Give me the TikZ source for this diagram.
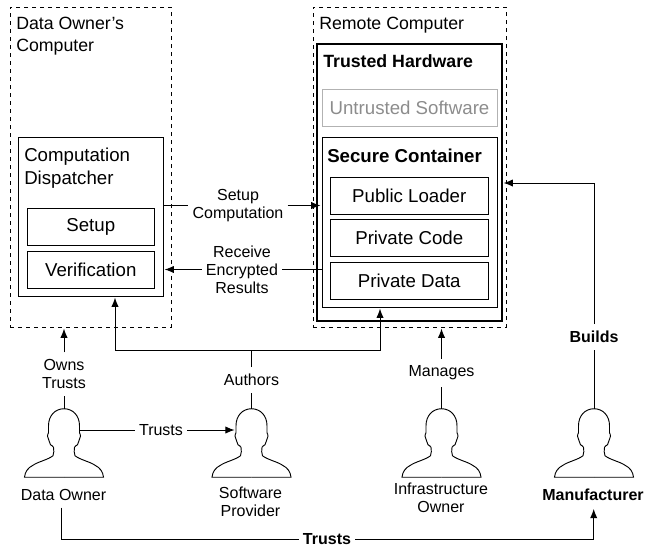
\documentclass[tikz,border=0pt]{standalone}
\usepackage{fontspec}
\setmainfont{Liberation Sans}
\usetikzlibrary{arrows.meta}
\tikzset{
  boxsize/.style 2 args={minimum width=#1*0.75pt, minimum height=#2*0.75pt, inner sep=0pt},
  box/.style={draw, line width=0.75pt, font=\fontsize{14}{17}\selectfont},
  dashbox/.style={draw, dashed, line width=0.75pt},
  title/.style={anchor=west, align=left, inner sep=0pt, font=\fontsize{13.3}{16}\selectfont},
  lbl/.style={align=center, inner xsep=3pt, inner ysep=5pt, font=\fontsize{12}{13.5}\selectfont},
  link/.style={draw, line width=0.75pt},
  arrow/.style={link, ->, shorten >=0.8pt},
  person/.pic={
    \foreach \side in {1,-1} {
      \draw[line width=0.7pt, xscale=\side] (0,0) .. controls (9,0) and (15.5,7) .. (15.5,17) -- (15.5,24)
        .. controls (15.5,25) and (17,26) .. (16.5,27.5) .. controls (16,31) and (14,33) .. (13.5,36)
        .. controls (12.5,37) and (11,37) .. (10.5,38.5) .. controls (10.5,42) and (9.5,44) .. (11,47)
        .. controls (16,51) and (26,53) .. (31,56.5) .. controls (36,59) and (39,63) .. (39.5,68.5) -- (0,68.5);
    }
  }
}
\begin{document}
\begin{tikzpicture}[x=0.75pt, y=-0.75pt, >={Latex[length=7pt,width=5.5pt]}]
\useasboundingbox (0,0) rectangle (645,546);

\node[dashbox, boxsize={161}{320}] (localpc) at (90.5,167) {};
\node[title] (localtitle) at (16,36) {Data Owner's\\Computer};
\node[draw, line width=0.75pt, boxsize={144.5}{159}] (dispatcher) at (90.75,216.5) {};
\node[title, font=\fontsize{14}{17}\selectfont] (dispatchtitle) at (24,168) {Computation\\Dispatcher};
\node[box, boxsize={127.5}{37}] (setup) at (90.75,226.5) {Setup};
\node[box, boxsize={127.5}{37}] (verify) at (90.75,269.5) {Verification};

\node[dashbox, boxsize={193}{320}] (remotepc) at (409.5,167) {};
\node[title] (remotetitle) at (319,25) {Remote Computer};
\node[draw, line width=1.5pt, boxsize={184.5}{277}] (trusted) at (409.25,182.5) {};
\node[title, font=\fontsize{13.3}{16}\selectfont\bfseries] (trustedtitle) at (323,61) {Trusted Hardware};
\node[box, draw=black!30, text=black!45, boxsize={175}{37}] (untrusted) at (409.5,107.5) {Untrusted Software};
\node[draw, line width=0.75pt, boxsize={175}{170}] (secure) at (409.5,222) {};
\node[title, font=\fontsize{14}{17}\selectfont\bfseries] (securetitle) at (327,156) {Secure Container};
\node[box, boxsize={158.5}{37}] (loader) at (409.25,195.5) {Public Loader};
\node[box, boxsize={158.5}{37}] (code) at (409.25,238) {Private Code};
\node[box, boxsize={158.5}{37}] (data) at (409.25,280.5) {Private Data};

\node[boxsize={31}{68.5}] (owner) at (64,443.25) {};
\node[boxsize={31}{68.5}] (provider) at (251.5,443.25) {};
\node[boxsize={31}{68.5}] (infra) at (441.5,443.25) {};
\node[boxsize={31}{68.5}] (maker) at (594,443.25) {};
\foreach \who in {owner,provider,infra,maker} {
  \pic at (\who.north) {person};
}

\node[lbl] (ownerlbl) at (63.5,495) {Data Owner};
\node[lbl] (providerlbl) at (250.5,502) {Software\\Provider};
\node[lbl] (infralbl) at (441,498) {Infrastructure\\Owner};
\node[lbl, font=\fontsize{12}{13.5}\selectfont\bfseries] (makerlbl) at (593,495) {Manufacturer};

\node[lbl] (setuplbl) at (238,205.5) {Setup\\Computation};
\node[lbl] (recvlbl) at (242,269.5) {Receive\\Encrypted\\Results};
\node[lbl] (ownslbl) at (64,374) {Owns\\Trusts};
\node[lbl] (authorlbl) at (251.5,380) {Authors};
\node[lbl] (managelbl) at (441.5,373) {Manages};
\node[lbl, font=\fontsize{12}{13.5}\selectfont\bfseries] (buildlbl) at (594,337) {Builds};
\node[lbl] (trustlbl) at (161,430) {Trusts};
\node[lbl, font=\fontsize{12}{13.5}\selectfont\bfseries] (bigtrustlbl) at (327,539) {Trusts};

\coordinate (authorjoin) at (251.5,350);
\coordinate (authorleft) at (115,350);
\coordinate (authorright) at (380,350);
\coordinate (buildpt) at (594,183);
\coordinate (bigleft) at (61,539);
\coordinate (bigright) at (593.7,539);

\path[link] (dispatcher.east |- setuplbl) -- (setuplbl);
\path[arrow] (setuplbl) -- (secure.west |- setuplbl);
\path[link] (secure.west |- recvlbl) -- (recvlbl);
\path[arrow] (recvlbl) -- (dispatcher.east |- recvlbl);

\path[link] (owner.north) -- (ownslbl);
\path[arrow] (ownslbl) -- (localpc.south -| ownslbl);
\path[link] (provider.north) -- (authorlbl);
\path[link] (authorlbl) -- (authorjoin);
\path[arrow] (authorjoin) -- (authorleft) -- (dispatcher.south -| authorleft);
\path[arrow] (authorjoin) -- (authorright) -- (secure.south -| authorright);
\path[link] (infra.north) -- (managelbl);
\path[arrow] (managelbl) -- (remotepc.south -| managelbl);
\path[link] (maker.north) -- (buildlbl);
\path[arrow] (buildlbl) -- (buildpt) -- (trusted.east |- buildpt);

\path[link] (owner.north east |- trustlbl) -- (trustlbl);
\path[arrow] (trustlbl) -- (provider.north west |- trustlbl);
\path[link] (ownerlbl.south -| bigleft) -- (bigleft) -- (bigtrustlbl);
\path[arrow] (bigtrustlbl) -- (bigright) -- (makerlbl.south -| bigright);
\end{tikzpicture}
\end{document}
